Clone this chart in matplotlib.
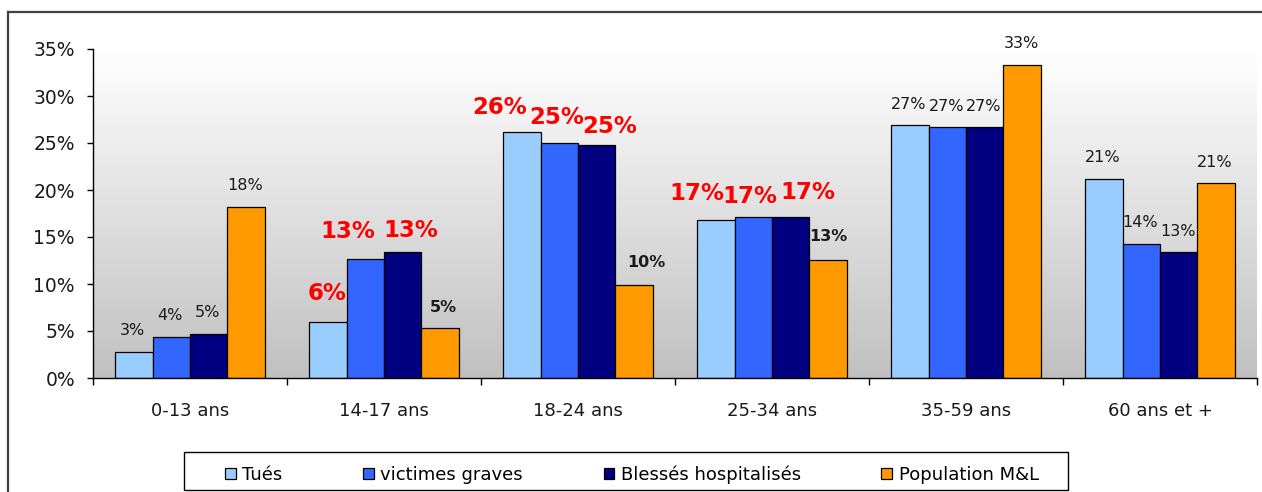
import numpy as np
import matplotlib
matplotlib.use('Agg')
import matplotlib.pyplot as plt
from matplotlib.colors import LinearSegmentedColormap
from matplotlib.lines import Line2D
from matplotlib.patches import Rectangle

# ---------------- données ----------------
categories = ['0-13 ans', '14-17 ans', '18-24 ans', '25-34 ans', '35-59 ans', '60 ans et +']
series_names = ['Tués', 'victimes graves', 'Blessés hospitalisés', 'Population M&L']
tues = [2.8, 6.0, 26.2, 16.8, 26.9, 21.2]
victimes = [4.4, 12.7, 25.0, 17.1, 26.7, 14.3]
blesses = [4.7, 13.4, 24.8, 17.1, 26.7, 13.4]
population = [18.2, 5.3, 9.9, 12.6, 33.3, 20.7]
y_ticks = [0, 5, 10, 15, 20, 25, 30, 35]

# ---------------- styles ----------------
COLORS = ['#99CCFF', '#3366FF', '#000080', '#FF9900']
BAR_W = 0.193

# style des étiquettes par groupe : n = normal, r = rouge gras, b = noir gras
label_style = [
    ['n', 'n', 'n', 'n'],
    ['r', 'r', 'r', 'b'],
    ['r', 'r', 'r', 'b'],
    ['r', 'r', 'r', 'b'],
    ['n', 'n', 'n', 'n'],
    ['n', 'n', 'n', 'n'],
]
# décalages des étiquettes (pixels) pour les groupes modifiés à la main
label_offset = {
    (1, 0): (-1, 28), (1, 1): (-17, 27), (1, 2): (8, 22), (1, 3): (3, 21),
    (2, 0): (-22, 24), (2, 1): (-3, 26), (2, 2): (13, 18), (2, 3): (12, 22),
    (3, 0): (-19, 27), (3, 1): (-3, 21), (3, 2): (17, 25), (3, 3): (0, 23),
}
FONT = 'DejaVu Sans'
W, H = 1262, 492

fig = plt.figure(figsize=(W / 100, H / 100), dpi=100)
fig.patch.set_facecolor('white')
ax = fig.add_axes([93 / W, 1 - 378 / H, (1257 - 93) / W, 329 / H])

# fond en dégradé blanc -> gris
grad = np.linspace(0, 1, 256).reshape(-1, 1)
cmap = LinearSegmentedColormap.from_list('fond', ['#FFFFFF', '#C0C0C0'])
ax.imshow(grad, extent=[-0.5, 5.5, 0, 35], aspect='auto', cmap=cmap,
          origin='upper', zorder=0)

x = np.arange(len(categories))
all_series = [tues, victimes, blesses, population]
for j, vals in enumerate(all_series):
    pos = x + (j - 1.5) * BAR_W
    ax.bar(pos, vals, width=BAR_W, color=COLORS[j], edgecolor='black',
           linewidth=0.9, zorder=2, label=series_names[j])
    for i, v in enumerate(vals):
        st = label_style[i][j]
        dx, dy = label_offset.get((i, j), (-1, 21))
        if st == 'r':
            kw = dict(fontsize=16.5, fontweight='bold', color='#FF0000')
        elif st == 'b':
            kw = dict(fontsize=11.5, fontweight='bold', color='#1A1A1A')
        else:
            kw = dict(fontsize=11.5, color='#1A1A1A')
        ax.annotate(f'{round(v)}%', (pos[i], v), xytext=(dx, dy),
                    textcoords='offset pixels', ha='center', va='center',
                    family=FONT, zorder=3, **kw)

ax.set_xlim(-0.5, 5.5)
ax.set_ylim(0, 35)
ax.set_yticks(y_ticks)
ax.set_yticklabels([f'{t}%' for t in y_ticks], fontsize=13.5, family=FONT, color='#1A1A1A')
ax.tick_params(axis='y', direction='out', length=4, width=1, pad=9)

ax.set_xticks(np.arange(len(categories) + 1) - 0.5)
ax.set_xticklabels([])
ax.tick_params(axis='x', which='major', direction='out', length=5, width=1)
ax.set_xticks(x, minor=True)
ax.set_xticklabels(categories, minor=True, fontsize=13, family=FONT, color='#1A1A1A')
ax.tick_params(axis='x', which='minor', length=0, pad=17)

for s in ['top', 'right']:
    ax.spines[s].set_visible(False)
for s in ['left', 'bottom']:
    ax.spines[s].set_color('black')
    ax.spines[s].set_linewidth(1)

# légende : cadre dessiné à part, entrées réparties à l'intérieur
fig.add_artist(Rectangle((184 / W, 1 - 490 / H), (1068 - 184) / W, 38 / H,
                         transform=fig.transFigure, facecolor='white',
                         edgecolor='black', linewidth=1, zorder=4))
leg = fig.legend(loc='lower left', ncol=4, mode='expand',
                 bbox_to_anchor=(219 / W, 1 - 490 / H, (1045 - 219) / W, 38 / H),
                 borderaxespad=0, frameon=False,
                 handlelength=0.6, handleheight=0.6, handletextpad=0.35,
                 prop={'family': FONT, 'size': 13}, borderpad=0.35)
leg.set_zorder(5)

# cadre de la figure (haut et gauche)
yt = 1 - 12 / H
fig.add_artist(Line2D([8 / W, 1], [yt, yt], transform=fig.transFigure,
                      color='#404040', linewidth=1.6))
fig.add_artist(Line2D([8 / W, 8 / W], [0, yt], transform=fig.transFigure,
                      color='#404040', linewidth=1.6))

fig.savefig('out.png', dpi=100, facecolor='white')
